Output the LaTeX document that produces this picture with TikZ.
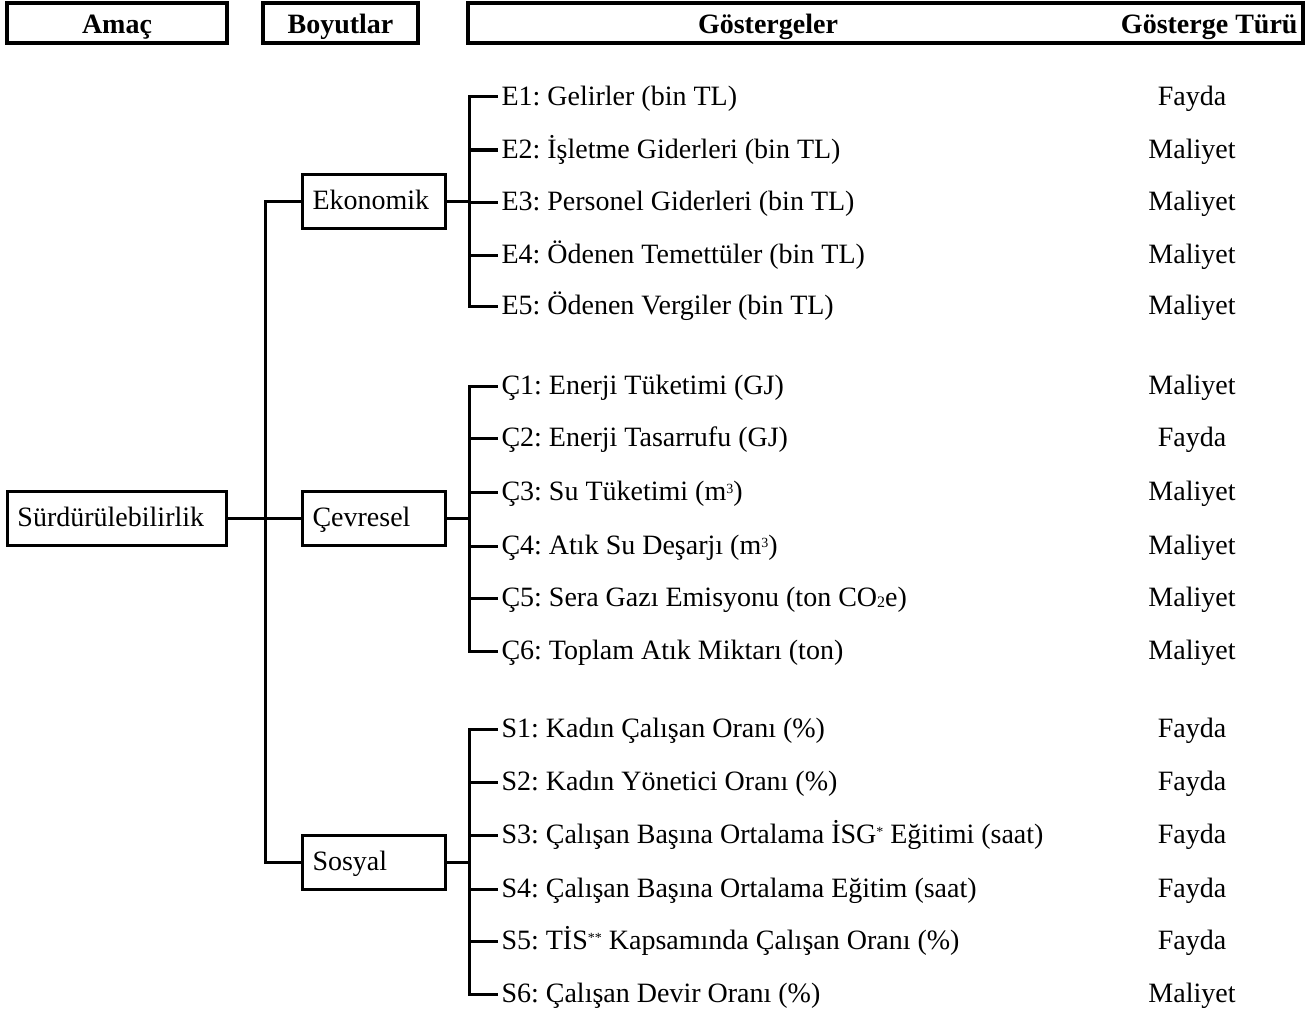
\documentclass[tikz,border=0pt]{standalone}
\usepackage{fontspec}
\setmainfont{Liberation Serif}
\usepackage{tikz}
\frenchspacing

\newcommand{\upidx}[1]{\raisebox{3.5pt}{\fontsize{7}{8}\selectfont #1}}
\newcommand{\lowidx}[1]{\raisebox{-0.5pt}{\fontsize{8}{9}\selectfont #1}}

\begin{document}
\begin{tikzpicture}[
          x=0.5pt, y=-0.5pt,
          line width=1.5pt,
          font=\fontsize{14}{17}\selectfont,
          head/.style = {draw, rectangle, line width=2pt, minimum height=20pt, inner sep=0pt, text height=14pt, text depth=3pt, font=\fontsize{14}{17}\selectfont\bfseries},
          headtext/.style = {inner sep=0pt, text height=14pt, text depth=3pt, font=\fontsize{14}{17}\selectfont\bfseries},
          block/.style = {draw, rectangle, minimum width=71.5pt, minimum height=27pt, text width=61pt, inner xsep=5pt, text height=11pt, text depth=3pt, align=left},
          item/.style = {anchor=west, inner sep=1pt, text height=11pt, text depth=3pt},
          kind/.style = {inner sep=1pt, text height=11pt, text depth=3pt}
        ]

        \useasboundingbox (0,0) rectangle (1306,1011);

        % header
        \node[head, minimum width=110pt] (hamac) at (117,23) {Amaç};
        \node[head, minimum width=77.5pt] (hboyut) at (340.5,23) {Boyutlar};
        \node[head, minimum width=417.5pt] (hgoster) at (885.5,23) {};
        \node[headtext] (hgosterge) at (768,23) {Göstergeler};
        \node[headtext, anchor=east] (htur) at ([xshift=-3pt]hgoster.east) {Gösterge Türü};

        % amac and boyutlar
        \node[block, minimum width=109.5pt, text width=99pt] (goal) at (116.5,518.5) {Sürdürülebilirlik};
        \node[block] (eko) at (373.5,201) {Ekonomik};
        \node[block] (cev) at (373.5,518.5) {Çevresel};
        \node[block] (sos) at (373.5,862.5) {Sosyal};

        % gostergeler
        \node[item] (e1) at (498,97) {E1: Gelirler (bin TL)};
        \node[item] (e2) at (498,150) {E2: İşletme Giderleri (bin TL)};
        \node[item] (e3) at (498,202) {E3: Personel Giderleri (bin TL)};
        \node[item] (e4) at (498,255) {E4: Ödenen Temettüler (bin TL)};
        \node[item] (e5) at (498,306) {E5: Ödenen Vergiler (bin TL)};

        \node[item] (c1) at (498,386) {Ç1: Enerji Tüketimi (GJ)};
        \node[item] (c2) at (498,438) {Ç2: Enerji Tasarrufu (GJ)};
        \node[item] (c3) at (498,492) {Ç3: Su Tüketimi (m\upidx{3})};
        \node[item] (c4) at (498,546) {Ç4: Atık Su Deşarjı (m\upidx{3})};
        \node[item] (c5) at (498,598) {Ç5: Sera Gazı Emisyonu (ton CO\lowidx{2}e)};
        \node[item] (c6) at (498,651) {Ç6: Toplam Atık Miktarı (ton)};

        \node[item] (s1) at (498,729) {S1: Kadın Çalışan Oranı (\%)};
        \node[item] (s2) at (498,782) {S2: Kadın Yönetici Oranı (\%)};
        \node[item] (s3) at (498,835) {S3: Çalışan Başına Ortalama İSG\upidx{*} Eğitimi (saat)};
        \node[item] (s4) at (498,889) {S4: Çalışan Başına Ortalama Eğitim (saat)};
        \node[item] (s5) at (498,941) {S5: TİS\upidx{**} Kapsamında Çalışan Oranı (\%)};
        \node[item] (s6) at (498,994) {S6: Çalışan Devir Oranı (\%)};

        % gosterge turu
        \node[kind] (ek1) at (1192,97) {Fayda};
        \node[kind] (ek2) at (1192,150) {Maliyet};
        \node[kind] (ek3) at (1192,202) {Maliyet};
        \node[kind] (ek4) at (1192,255) {Maliyet};
        \node[kind] (ek5) at (1192,306) {Maliyet};

        \node[kind] (ck1) at (1192,386) {Maliyet};
        \node[kind] (ck2) at (1192,438) {Fayda};
        \node[kind] (ck3) at (1192,492) {Maliyet};
        \node[kind] (ck4) at (1192,546) {Maliyet};
        \node[kind] (ck5) at (1192,598) {Maliyet};
        \node[kind] (ck6) at (1192,651) {Maliyet};

        \node[kind] (sk1) at (1192,729) {Fayda};
        \node[kind] (sk2) at (1192,782) {Fayda};
        \node[kind] (sk3) at (1192,835) {Fayda};
        \node[kind] (sk4) at (1192,889) {Fayda};
        \node[kind] (sk5) at (1192,941) {Fayda};
        \node[kind] (sk6) at (1192,994) {Maliyet};

        % connectors
        \draw (goal.east) -- ++(38,0) |- (eko.west);
        \draw (goal.east) -- ++(38,0) |- (cev.west);
        \draw (goal.east) -- ++(38,0) |- (sos.west);

        \draw (eko.east) -- ++(23,0) |- (e1.west);
        \draw (eko.east) -- ++(23,0) |- (e2.west);
        \draw (eko.east) -- ++(23,0) |- (e3.west);
        \draw (eko.east) -- ++(23,0) |- (e4.west);
        \draw (eko.east) -- ++(23,0) |- (e5.west);

        \draw (cev.east) -- ++(23,0) |- (c1.west);
        \draw (cev.east) -- ++(23,0) |- (c2.west);
        \draw (cev.east) -- ++(23,0) |- (c3.west);
        \draw (cev.east) -- ++(23,0) |- (c4.west);
        \draw (cev.east) -- ++(23,0) |- (c5.west);
        \draw (cev.east) -- ++(23,0) |- (c6.west);

        \draw (sos.east) -- ++(23,0) |- (s1.west);
        \draw (sos.east) -- ++(23,0) |- (s2.west);
        \draw (sos.east) -- ++(23,0) |- (s3.west);
        \draw (sos.east) -- ++(23,0) |- (s4.west);
        \draw (sos.east) -- ++(23,0) |- (s5.west);
        \draw (sos.east) -- ++(23,0) |- (s6.west);
      \end{tikzpicture}
\end{document}
